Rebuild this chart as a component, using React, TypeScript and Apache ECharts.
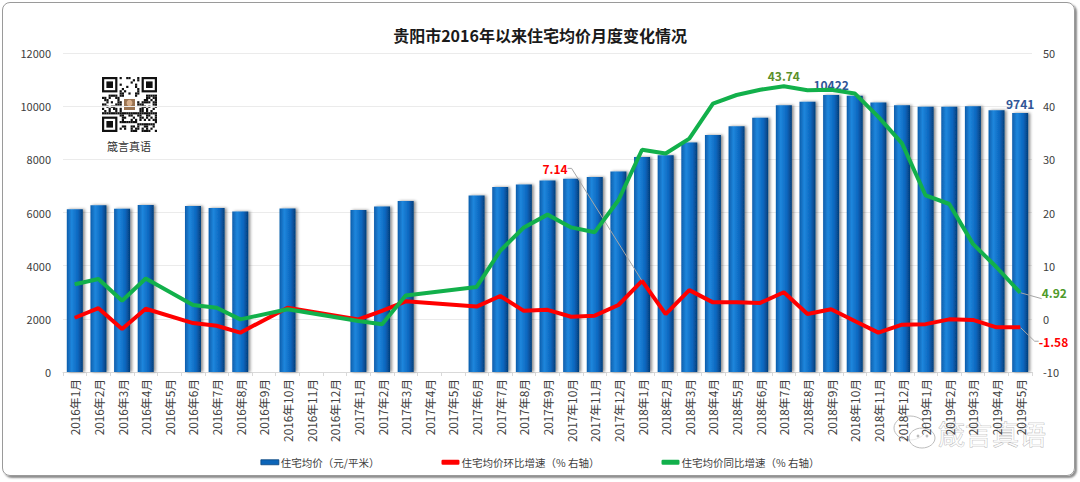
import React, { useEffect, useRef } from 'react';
import * as echarts from 'echarts';

const months = [
  '2016年1月', '2016年2月', '2016年3月', '2016年4月', '2016年5月', '2016年6月', '2016年7月', '2016年8月', '2016年9月', '2016年10月', '2016年11月', '2016年12月',
  '2017年1月', '2017年2月', '2017年3月', '2017年4月', '2017年5月', '2017年6月', '2017年7月', '2017年8月', '2017年9月', '2017年10月', '2017年11月', '2017年12月',
  '2018年1月', '2018年2月', '2018年3月', '2018年4月', '2018年5月', '2018年6月', '2018年7月', '2018年8月', '2018年9月', '2018年10月', '2018年11月', '2018年12月',
  '2019年1月', '2019年2月', '2019年3月', '2019年4月', '2019年5月',
];

const avgPrice: (number | null)[] = [
  6120, 6270, 6140, 6280, null, 6245, 6170, 6040, null, 6150, null, null,
  6094, 6226, 6430, null, null, 6640, 6955, 7057, 7207, 7270, 7333, 7547,
  8088, 8150, 8629, 8918, 9245, 9560, 10038, 10163, 10422, 10390, 10138, 10038,
  9975, 9975, 10000, 9849, 9741,
];

const momGrowth: (number | null)[] = [
  0.2, 2.0, -1.9, 1.9, null, -0.8, -1.3, -2.6, null, 2.1, null, null,
  -0.1, 1.5, 3.3, null, null, 2.3, 4.3, 1.5, 1.7, 0.4, 0.6, 2.6,
  7.14, 0.9, 5.4, 3.1, 3.1, 3.0, 5.0, 0.9, 1.8, -0.4, -2.6, -1.1,
  -1.0, -0.1, -0.2, -1.6, -1.58,
];

const yoyGrowth: (number | null)[] = [
  6.5, 7.5, 3.4, 7.6, null, 2.6, 2.1, -0.1, null, 1.8, null, null,
  -0.4, -1.0, 4.4, null, null, 6.0, 12.8, 17.2, 19.6, 17.2, 16.3, 22.3,
  31.8, 31.1, 33.9, 40.5, 42.1, 43.1, 43.74, 43.0, 43.1, 42.4, 38.0, 33.0,
  23.2, 21.6, 14.1, 9.7, 4.92,
];

const leftAxisTicks = [0, 2000, 4000, 6000, 8000, 10000, 12000];
const rightAxisTicks = [-10, 0, 10, 20, 30, 40, 50];

const priceLabelIdx = [32, 40];
const momLabelIdx = [24, 40];
const yoyLabelIdx = [30, 40];

const seriesNames = ['住宅均价（元/平米）', '住宅均价环比增速（% 右轴）', '住宅均价同比增速（% 右轴）'];

const FONT = '"Noto Sans CJK SC", "Noto Sans", sans-serif';

function buildQR(x0: number, y0: number, m: number) {
  const N = 25;
  const children: any[] = [];
  const inFinder = (i: number, j: number) =>
    (i < 8 && j < 8) || (i < 8 && j >= N - 8) || (i >= N - 8 && j < 8);
  const inLogo = (i: number, j: number) => i >= 9 && i <= 15 && j >= 9 && j <= 15;
  for (let i = 0; i < N; i++) {
    for (let j = 0; j < N; j++) {
      if (inFinder(i, j) || inLogo(i, j)) continue;
      const h = (i * 37 + j * 91 + i * j * 13 + ((i ^ j) * 7)) % 17;
      if (h < 8) {
        children.push({ type: 'rect', shape: { x: x0 + j * m, y: y0 + i * m, width: m, height: m }, style: { fill: '#111' } });
      }
    }
  }
  const finder = (fx: number, fy: number) => {
    children.push({ type: 'rect', shape: { x: fx, y: fy, width: 7 * m, height: 7 * m }, style: { fill: '#111' } });
    children.push({ type: 'rect', shape: { x: fx + m, y: fy + m, width: 5 * m, height: 5 * m }, style: { fill: '#fff' } });
    children.push({ type: 'rect', shape: { x: fx + 2 * m, y: fy + 2 * m, width: 3 * m, height: 3 * m }, style: { fill: '#111' } });
  };
  finder(x0, y0);
  finder(x0 + (N - 7) * m, y0);
  finder(x0, y0 + (N - 7) * m);
  children.push({ type: 'rect', shape: { x: x0 + 9.5 * m, y: y0 + 9.5 * m, width: 6 * m, height: 6 * m, r: 1 }, style: { fill: '#fff' } });
  children.push({ type: 'rect', shape: { x: x0 + 10 * m, y: y0 + 10 * m, width: 5 * m, height: 5 * m }, style: { fill: '#9b7452' } });
  children.push({ type: 'ellipse', shape: { cx: x0 + 12.5 * m, cy: y0 + 11.8 * m, rx: 1.3 * m, ry: 1.5 * m }, style: { fill: '#d9b08c' } });
  return children;
}

export default function App() {
  const ref = useRef<HTMLDivElement>(null);

  useEffect(() => {
    document.body.style.margin = '0';
    if (!ref.current) return;
    const chart = echarts.init(ref.current, null, { renderer: 'svg' });

    const barGradient = new echarts.graphic.LinearGradient(0, 0, 1, 0, [
      { offset: 0, color: '#0d5dab' },
      { offset: 0.3, color: '#1f86dc' },
      { offset: 0.7, color: '#0a66be' },
      { offset: 1, color: '#053e7a' },
    ]);

    const priceData = avgPrice.map((v, i) =>
      priceLabelIdx.includes(i)
        ? { value: v, label: { show: true, position: 'top', color: '#2f5597', fontSize: 12, fontWeight: 'bold', distance: 4 } }
        : v
    );

    const momData = momGrowth.map((v, i) => {
      if (!momLabelIdx.includes(i)) return v;
      if (i === 24) {
        return { value: v, label: { show: true, position: 'top', color: '#ff0000', fontSize: 12, fontWeight: 'bold' }, labelLine: { show: true } };
      }
      return { value: v, label: { show: true, position: 'right', distance: 18, color: '#ff0000', fontSize: 12, fontWeight: 'bold' }, labelLine: { show: true } };
    });

    const yoyData = yoyGrowth.map((v, i) => {
      if (!yoyLabelIdx.includes(i)) return v;
      if (i === 30) {
        return { value: v, label: { show: true, position: 'top', distance: 4, color: '#5b8f2a', fontSize: 12, fontWeight: 'bold' } };
      }
      return { value: v, label: { show: true, position: 'right', distance: 21, color: '#4e9a2a', fontSize: 12, fontWeight: 'bold' }, labelLine: { show: true } };
    });

    const option: any = {
      animation: false,
      textStyle: { fontFamily: FONT },
      title: {
        text: '贵阳市2016年以来住宅均价月度变化情况',
        left: 'center',
        top: 22,
        textStyle: { fontSize: 16, fontWeight: 'bold', color: '#1a1a1a', fontFamily: FONT },
      },
      legend: {
        left: 'center',
        top: 452,
        itemWidth: 18,
        itemHeight: 5,
        itemGap: 62,
        textStyle: { fontSize: 10.5, color: '#404040', fontFamily: FONT, padding: [0, 0, 0, -3] },
        data: [
          { name: seriesNames[0], icon: 'rect', itemStyle: { color: '#0b64b8', borderColor: '#07447f', borderWidth: 0.8 } },
          { name: seriesNames[1], icon: 'roundRect', itemStyle: { color: '#ff0000' } },
          { name: seriesNames[2], icon: 'roundRect', itemStyle: { color: '#12b04b' } },
        ],
      },
      grid: { left: 63, right: 48, top: 53, bottom: 110, containLabel: false },
      xAxis: {
        type: 'category',
        data: months,
        boundaryGap: true,
        axisLine: { lineStyle: { color: '#d9d9d9' } },
        axisTick: { show: true, length: 4, lineStyle: { color: '#d9d9d9' } },
        axisLabel: { rotate: 90, interval: 0, fontSize: 11.8, color: '#404040', margin: 7, fontFamily: FONT },
      },
      yAxis: [
        {
          type: 'value',
          min: leftAxisTicks[0],
          max: leftAxisTicks[leftAxisTicks.length - 1],
          interval: leftAxisTicks[1] - leftAxisTicks[0],
          axisLine: { show: false },
          axisTick: { show: false },
          axisLabel: { fontSize: 11, color: '#404040', margin: 12, fontFamily: FONT, formatter: (v: number) => String(v) },
          splitLine: { lineStyle: { color: '#ebebeb' } },
        },
        {
          type: 'value',
          min: rightAxisTicks[0],
          max: rightAxisTicks[rightAxisTicks.length - 1],
          interval: rightAxisTicks[1] - rightAxisTicks[0],
          axisLine: { show: false },
          axisTick: { show: false },
          axisLabel: { fontSize: 11, color: '#404040', margin: 11, fontFamily: FONT, formatter: (v: number) => String(v) },
          splitLine: { show: false },
        },
      ],
      series: [
        {
          name: seriesNames[0],
          type: 'bar',
          data: priceData,
          barWidth: 16,
          itemStyle: {
            color: barGradient,
            shadowColor: 'rgba(0,0,0,0.45)',
            shadowBlur: 3,
            shadowOffsetX: 2,
            shadowOffsetY: 0,
          },
          emphasis: { disabled: true },
          z: 2,
        },
        {
          name: seriesNames[1],
          type: 'line',
          yAxisIndex: 1,
          data: momData,
          connectNulls: true,
          symbol: 'circle',
          symbolSize: 1,
          showSymbol: true,
          itemStyle: { color: '#ff0000' },
          lineStyle: { color: '#ff0000', width: 4 },
          labelLine: { show: false, length2: 4, lineStyle: { color: '#a6a6a6', width: 1 } },
          labelLayout: (p: any) => {
            if (p.dataIndex === 24) return { dx: -87, dy: -101 };
            if (p.dataIndex === 40) return { dy: 14 };
            return {};
          },
          emphasis: { disabled: true },
          z: 4,
        },
        {
          name: seriesNames[2],
          type: 'line',
          yAxisIndex: 1,
          data: yoyData,
          connectNulls: true,
          symbol: 'circle',
          symbolSize: 1,
          showSymbol: true,
          itemStyle: { color: '#12b04b' },
          lineStyle: { color: '#12b04b', width: 4 },
          labelLine: { show: false, lineStyle: { color: '#a6a6a6', width: 1 } },
          emphasis: { disabled: true },
          z: 5,
        },
      ],
      graphic: [
        { type: 'group', children: buildQR(102, 77, 2.2) },
        {
          type: 'text',
          x: 129,
          y: 146,
          style: { text: '箴言真语', fill: '#333', fontSize: 11, fontFamily: FONT, align: 'center', verticalAlign: 'middle' },
        },
        {
          type: 'group',
          z: 100,
          children: [
            { type: 'ellipse', shape: { cx: 910, cy: 428, rx: 16, ry: 12 }, style: { fill: 'rgba(255,255,255,0.55)', stroke: '#bdbdbd', lineWidth: 1 } },
            { type: 'ellipse', shape: { cx: 922, cy: 438, rx: 13, ry: 10 }, style: { fill: 'rgba(255,255,255,0.7)', stroke: '#bdbdbd', lineWidth: 1 } },
            { type: 'circle', shape: { cx: 918, cy: 436, r: 1.4 }, style: { fill: '#bdbdbd' } },
            { type: 'circle', shape: { cx: 927, cy: 436, r: 1.4 }, style: { fill: '#bdbdbd' } },
            {
              type: 'text',
              x: 938,
              y: 433,
              style: { text: '箴言真语', fontSize: 27, fontFamily: FONT, fill: 'rgba(255,255,255,0.75)', stroke: '#a8a8a8', lineWidth: 0.6, verticalAlign: 'middle' },
            },
          ],
        },
      ],
    };

    chart.setOption(option);
    return () => chart.dispose();
  }, []);

  return (
    <div style={{ position: 'relative', width: 1080, height: 482, background: '#fff', overflow: 'hidden' }}>
      <div
        style={{
          position: 'absolute',
          left: 2,
          top: 2,
          width: 1071,
          height: 472,
          border: '1px solid #9a9a9a',
          borderRadius: 8,
          boxShadow: '2px 2px 2px rgba(0,0,0,0.45)',
        }}
      />
      <div ref={ref} style={{ position: 'absolute', left: 0, top: 0, width: 1080, height: 482 }} />
    </div>
  );
}
